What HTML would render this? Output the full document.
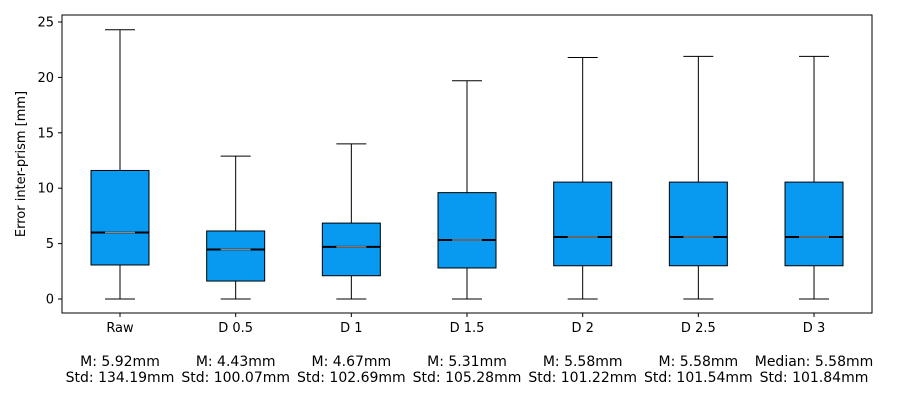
<!DOCTYPE html>
<html><head><meta charset="utf-8"><style>
body{margin:0;background:#fff;}
svg text{font-family:"DejaVu Sans","Liberation Sans",sans-serif;font-size:13px;fill:#000;}
svg text.big{font-size:14px;}
</style></head><body>
<svg id="chart" width="900" height="400" xmlns="http://www.w3.org/2000/svg">
<rect x="62" y="15" width="810" height="298" fill="#fff" stroke="#000" stroke-width="1"/>
<g id="yaxis"></g><g id="boxes"></g><g id="xlabels"></g>
<text transform="translate(25,164) rotate(-90)" text-anchor="middle">Error inter-prism [mm]</text>
</svg>
<script>
const categories=["Raw","D 0.5","D 1","D 1.5","D 2","D 2.5","D 3"];
const whiskerLow=[0,0,0,0,0,0,0];
const whiskerHigh=[24.3,12.9,14.0,19.7,21.8,21.9,21.9];
const q1=[3.07,1.62,2.1,2.8,3.0,3.0,3.0];
const median=[6.0,4.47,4.7,5.33,5.6,5.6,5.6];
const q3=[11.6,6.14,6.85,9.6,10.55,10.55,10.55];
const statLines=["M: 5.92mm","M: 4.43mm","M: 4.67mm","M: 5.31mm","M: 5.58mm","M: 5.58mm","Median: 5.58mm"];
const stdLines=["Std: 134.19mm","Std: 100.07mm","Std: 102.69mm","Std: 105.28mm","Std: 101.22mm","Std: 101.54mm","Std: 101.84mm"];
const yTicks=[0,5,10,15,20,25];
const NS="http://www.w3.org/2000/svg";
const y=v=>299-v*11.08;
const x=i=>120+i*115.67;
function mk(tag,attrs,parent){const e=document.createElementNS(NS,tag);for(const k in attrs)e.setAttribute(k,attrs[k]);parent.appendChild(e);return e;}
const ya=document.getElementById('yaxis');
yTicks.forEach(t=>{
 const l=mk('line',{x1:58,x2:62,y1:y(t),y2:y(t),stroke:'#000'},ya);
 
 
 const tx=mk('text',{x:54,y:y(t)+4.5,'text-anchor':'end'},ya);tx.textContent=t;
 
 
});
const bx=document.getElementById('boxes'),xl=document.getElementById('xlabels');
categories.forEach((c,i)=>{
 const cx=x(i);
 const g=mk('g',{},bx);
 
 
 mk('line',{x1:cx,x2:cx,y1:y(whiskerHigh[i]),y2:y(q3[i]),stroke:'#000'},g);
 mk('line',{x1:cx,x2:cx,y1:y(q1[i]),y2:y(whiskerLow[i]),stroke:'#000'},g);
 mk('line',{x1:cx-15,x2:cx+15,y1:y(whiskerHigh[i]),y2:y(whiskerHigh[i]),stroke:'#000'},g);
 mk('line',{x1:cx-15,x2:cx+15,y1:y(whiskerLow[i]),y2:y(whiskerLow[i]),stroke:'#000'},g);
 mk('rect',{x:cx-29,y:y(q3[i]),width:58,height:y(q1[i])-y(q3[i]),fill:'#0899f0',stroke:'#000'},g);
 mk('line',{x1:cx-29,x2:cx+29,y1:y(median[i]),y2:y(median[i]),stroke:'#000','stroke-width':2},g);
 mk('line',{x1:cx-15,x2:cx+15,y1:y(median[i]),y2:y(median[i]),stroke:'#888','stroke-width':1.5},g);
 mk('line',{x1:cx,x2:cx,y1:313,y2:317,stroke:'#000'},xl);
 const t1=mk('text',{x:cx,y:332,'text-anchor':'middle'},xl);t1.textContent=c;
 
 
 const t2=mk('text',{x:cx,y:366,'text-anchor':'middle','class':'big'},xl);t2.textContent=statLines[i];
 
 
 const t3=mk('text',{x:cx,y:382,'text-anchor':'middle','class':'big'},xl);t3.textContent=stdLines[i];
 
 
});
</script>
</body></html>
